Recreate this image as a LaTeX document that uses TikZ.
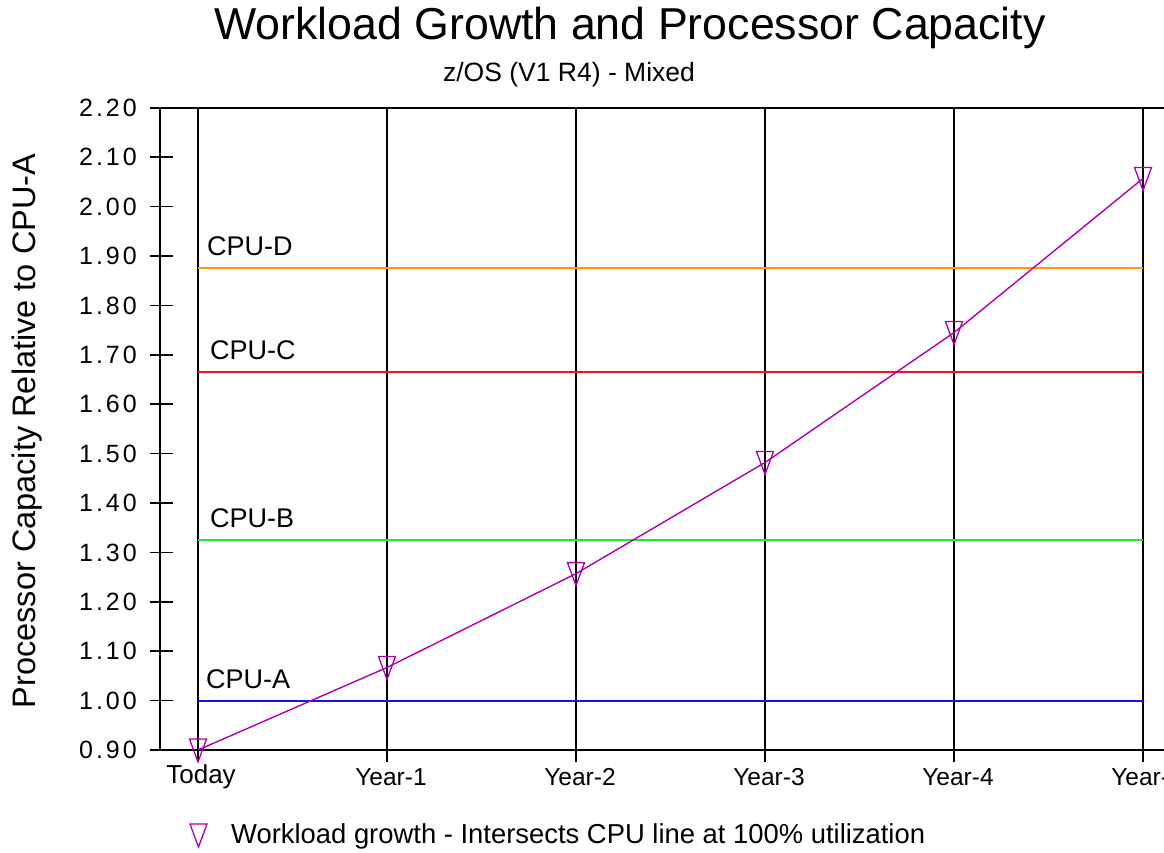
\documentclass[tikz,border=0pt]{standalone}
\usepackage{fontspec}
\setmainfont{Liberation Sans}
\definecolor{cpuA}{RGB}{20,20,235}
\definecolor{cpuB}{RGB}{40,230,40}
\definecolor{cpuC}{RGB}{240,20,20}
\definecolor{cpuD}{RGB}{255,150,20}
\definecolor{wl}{RGB}{175,0,175}
\tikzset{
  grid/.style={black, line width=1.6pt},
  cpuline/.style={line width=1.8pt},
  wlline/.style={wl, line width=1.4pt},
  ticklab/.style={anchor=east, inner sep=0pt, font=\fontsize{25}{25}\selectfont\addfontfeature{LetterSpace=12}},
  xlab/.style={inner sep=0pt, font=\fontsize{24.5}{24.5}\selectfont},
  cpulab/.style={anchor=south west, inner sep=0pt, font=\fontsize{27}{27}\selectfont},
  tri/.pic={\draw[wl, line width=1.3pt, line join=miter] (-8.5,-11) -- (8.5,-11) -- (0,12) -- cycle;}
}
\begin{document}
\begin{tikzpicture}[x=1pt, y=-1pt]
\useasboundingbox (0,0) rectangle (1164,852);
% title
\node[inner sep=0pt, font=\fontsize{44.7}{44.7}\selectfont] (title) at (630,28) {Workload Growth and Processor Capacity};
\node[inner sep=0pt, font=\fontsize{26.5}{26.5}\selectfont] (sub) at (569,75) {z/OS (V1 R4) - Mixed};
\node[inner sep=0pt, rotate=90, font=\fontsize{32.5}{32.5}\selectfont] (ylab) at (27,431) {Processor Capacity Relative to CPU-A};
% frame
\coordinate (tl) at (150,108);
\coordinate (tr) at (1164,108);
\coordinate (ya) at (160,108);
\coordinate (yb) at (160,750);
\coordinate (xr) at (1164,750);
\draw[grid] (tl) -- (tr);
\draw[grid] (ya) -- (yb);
\draw[grid] (yb) -- (xr);
% y ticks
\foreach \t [count=\k from 0] in {0.90,1.00,1.10,1.20,1.30,1.40,1.50,1.60,1.70,1.80,1.90,2.00,2.10,2.20}{
  \coordinate (ytA\k) at (150,{750-49.4*\k});
  \coordinate (ytB\k) at (173,{750-49.4*\k});
  \draw[grid] (ytA\k) -- (ytB\k);
  \node[ticklab] (yl\k) at (137,{750-49.4*\k}) {\t};
}
% vertical grid lines
\foreach \i in {0,...,5}{
  \coordinate (gt\i) at ({198+189*\i},108);
  \coordinate (gb\i) at ({198+189*\i},762);
  \draw[grid] (gt\i) -- (gb\i);
}
\node[inner sep=0pt, font=\fontsize{26}{26}\selectfont] (x0) at (201,777) {Today};
\foreach \i in {1,...,5}{
  \node[xlab] (x\i) at ({202+189*\i},777) {Year-\i};
}
% CPU lines
\foreach \v/\c/\n/\lx in {1.000/cpuA/A/206,1.325/cpuB/B/210,1.665/cpuC/C/210,1.875/cpuD/D/207}{
  \coordinate (cl\n) at (198,{750-(\v-0.9)*494});
  \coordinate (cr\n) at (1143,{750-(\v-0.9)*494});
  \draw[cpuline, \c] (cl\n) -- (cr\n);
  \node[cpulab] (lab\n) at (\lx,{750-(\v-0.9)*494-12}) {CPU-\n};
}
% workload
\foreach \v [count=\k from 0] in {0.900,1.067,1.257,1.482,1.745,2.057}{
  \coordinate (w\k) at ({198+189*\k},{750-(\v-0.9)*494});
}
\draw[wlline] (w0) -- (w1) -- (w2) -- (w3) -- (w4) -- (w5);
\foreach \k in {0,...,5}{ \pic at (w\k) {tri}; }
% legend
\coordinate (legtri) at (198.5,835);
\pic at (legtri) {tri};
\node[anchor=west, inner sep=0pt, font=\fontsize{27.4}{27.4}\selectfont] (leg) at (231,836) {Workload growth - Intersects CPU line at 100\% utilization};
\end{tikzpicture}
\end{document}
